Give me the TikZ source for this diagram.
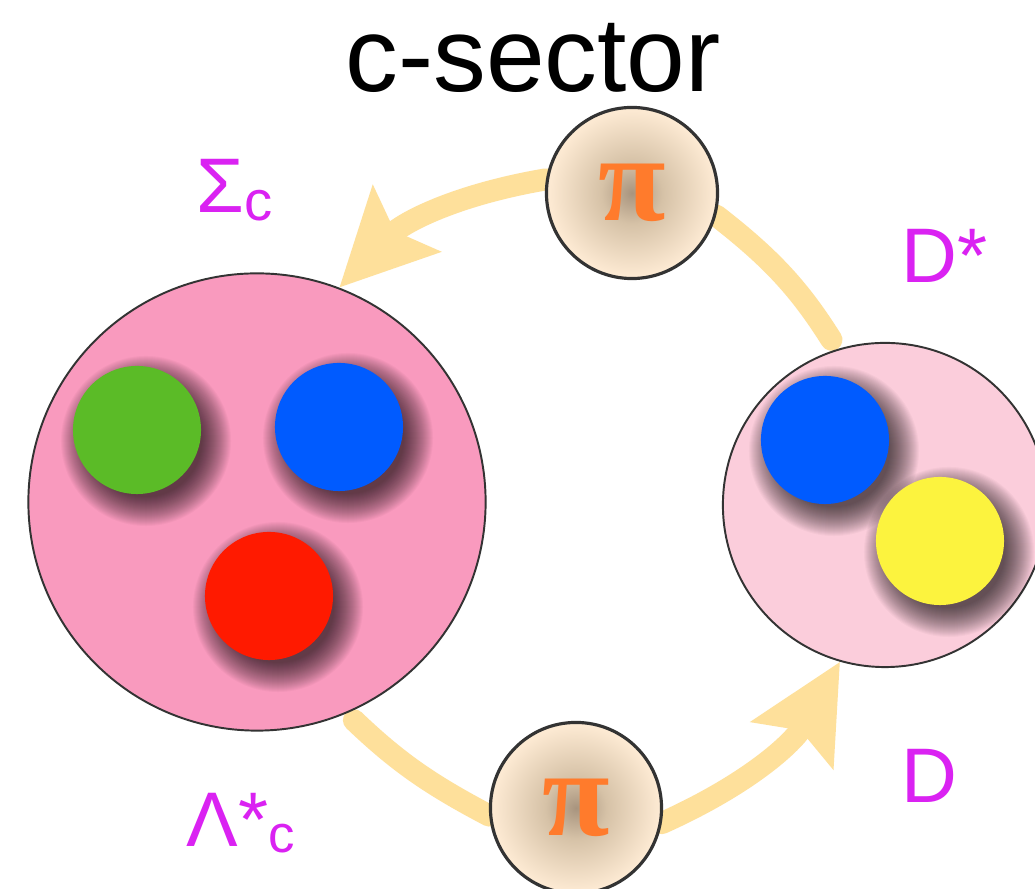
\documentclass[tikz,border=0pt]{standalone}
\usepackage{fontspec}
\setmainfont{Liberation Sans}
\newfontfamily\pifont{Liberation Serif}
\usetikzlibrary{arrows.meta,backgrounds}
\definecolor{bigpink}{HTML}{F99ABE}
\definecolor{smallpink}{HTML}{FBCDDB}
\definecolor{qgreen}{HTML}{5BBB27}
\definecolor{qblue}{HTML}{005BFF}
\definecolor{qred}{HTML}{FF1A00}
\definecolor{qyellow}{HTML}{FCF33E}
\definecolor{flow}{HTML}{FEE09B}
\definecolor{lab}{HTML}{DA22F2}
\definecolor{piorange}{HTML}{FF7B2C}
\definecolor{pibg}{HTML}{FCE9D2}
\definecolor{pidark}{HTML}{A8947E}
\definecolor{pimid}{HTML}{D6C2A7}
\pgfdeclareradialshading{pishade}{\pgfpointorigin}{color(0bp)=(pidark); color(9bp)=(pimid); color(24bp)=(pibg); color(50bp)=(pibg)}
\newcommand\qshadow[1]{%
  \foreach \k in {0,...,29}{\fill[black,opacity=0.026] ([shift={(9,11)}]#1.center) circle[radius=0.56cm+\k*0.01cm];}}
\begin{document}
\begin{tikzpicture}[x=0.01cm,y=-0.01cm,
  hadron/.style={circle, draw=black!80, line width=0.55pt, inner sep=0pt},
  quark/.style={circle, inner sep=0pt, minimum size=1.28cm},
  pinode/.style={circle, draw=black!80, line width=0.9pt, shading=pishade, minimum size=1.71cm, inner sep=0pt, font=\pifont\bfseries\fontsize{35}{35}\selectfont, text=piorange},
  flowline/.style={draw=flow, line width=0.22cm, line cap=round},
  flowtip/.style={-{Stealth[length=0.95cm,width=0.92cm,inset=0.16cm]}},
  hadlab/.style={text=lab, inner sep=0pt, font=\fontsize{22}{22}\selectfont}]
\useasboundingbox (0,0) rectangle (1035,889);
\node[anchor=base, font=\fontsize{30}{30}\selectfont] (title) at (533,92) {c-sector};
\node[hadron, fill=bigpink, minimum size=4.57cm] (big) at (257,502) {};
\node[hadron, fill=smallpink, minimum size=3.24cm] (small) at (885,505) {};
\coordinate (g) at (137,430);
\coordinate (b1) at (339,427);
\coordinate (r) at (269,596);
\coordinate (b2) at (825,440);
\coordinate (y) at (940,541);
\qshadow{g}\qshadow{b1}\qshadow{r}\qshadow{b2}\qshadow{y}
\node[quark, fill=qgreen] (qg) at (g) {};
\node[quark, fill=qblue] (qb1) at (b1) {};
\node[quark, fill=qred] (qr) at (r) {};
\node[quark, fill=qblue] (qb2) at (b2) {};
\node[quark, fill=qyellow] (qy) at (y) {};
\node[pinode] (pitop) at (632,193) {π};
\node[pinode] (pibot) at (576,808) {π};
\node[hadlab, anchor=base west] (sig) at (196,213) {Σ{\fontsize{16}{16}\selectfont\raisebox{-2pt}{c}}};
\node[hadlab, anchor=base west] (dstar) at (901,283) {D*};
\node[hadlab, anchor=base west] (lam) at (186,847) {Λ*{\fontsize{15}{15}\selectfont\raisebox{-1.5pt}{c}}};
\node[hadlab, anchor=base west] (dd) at (901,803) {D};
\begin{scope}[on background layer]
\fill[white] (0,0) rectangle (1035,889);
\draw[flowline, shorten <=0.11cm] (small.107) to[bend right=10] (pitop.-15);
\draw[flowline, flowtip] (pitop.171) to[bend right=18] (big.69);
\draw[flowline, shorten <=0.1cm] (big.-67) to[bend right=8] (pibot.185);
\draw[flowline, flowtip] (pibot.-10) to[bend right=18] (small.-106);
\end{scope}
\end{tikzpicture}
\end{document}
